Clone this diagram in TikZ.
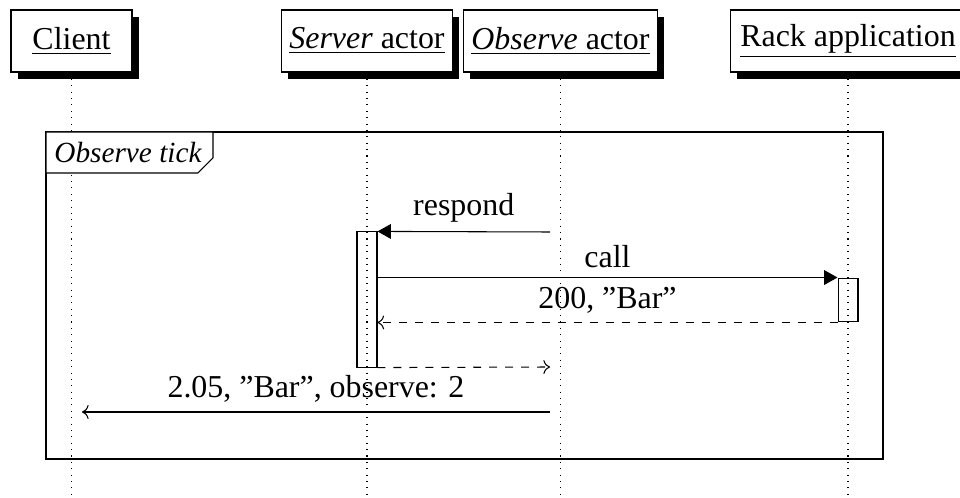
\documentclass[tikz,border=0pt]{standalone}
\usepackage{fontspec}
\setmainfont{Liberation Serif}
\usetikzlibrary{arrows.meta,shadows}
\begin{document}
\begin{tikzpicture}[x=0.376pt,y=-0.376pt,
  font=\fontsize{12}{14}\selectfont,
  inst/.style={draw, fill=white, minimum height=23.3pt, inner sep=3pt,
    drop shadow={shadow xshift=2.6pt, shadow yshift=-2.6pt, opacity=1, fill=black}},
  life/.style={dotted},
  actbox/.style={draw, inner sep=0pt, minimum width=7.5pt},
  sync/.style={-{Triangle[length=5pt,width=5.5pt]}},
  reply/.style={dashed,->},
  async/.style={->},
  lbl/.style={midway, above}]
\useasboundingbox (0,0) rectangle (960,498);
\coordinate (bot) at (0,498);
% instances
\node[inst, minimum width=45.5pt] (client) at (71.5,41) {\underline{Client}};
\node[inst, minimum width=63.2pt] (server) at (367,41) {\underline{\textit{Server} actor}};
\node[inst, minimum width=70.3pt] (observe) at (560.5,41) {\underline{\textit{Observe} actor}};
\node[inst, minimum width=88.7pt] (rack) at (848,41) {\underline{Rack application}};
% lifelines
\draw[life] (client.south) -- (client.south |- bot);
\draw[life] (server.south) -- (server.south |- bot);
\draw[life] (observe.south) -- (observe.south |- bot);
\draw[life] (rack.south) -- (rack.south |- bot);
% frame
\draw (46,132) rectangle (883,459);
\draw[fill=white] (46,132) -- (213,132) -- (213,158) -- (198,173) -- (46,173) -- cycle;
\node[font=\fontsize{11}{13}\selectfont\itshape] (ftitle) at (128,152) {Observe tick};
% activations
\node[actbox, minimum height=50.8pt] (sact) at (367,299.5) {};
\node[actbox, minimum height=16.5pt] (ract) at (848,300) {};
% messages
\coordinate (o1) at (550,232);
\coordinate (o2) at (550,367);
\coordinate (o3) at (550,412);
\coordinate (c3) at (82,412);
\draw[sync] (o1) -- (sact.north east) node[lbl] (m1) {respond};
\draw[sync] (sact.east |- ract.north) -- (ract.north west) node[lbl] (m2) {call};
\draw[reply] (ract.south west) -- (sact.east |- ract.south) node[lbl] (m3) {200, "Bar"};
\draw[reply] (sact.south east) -- (o2);
\draw[async] (o3) -- (c3) node[lbl] (m5) {2.05, "Bar", observe: 2};
\end{tikzpicture}
\end{document}
